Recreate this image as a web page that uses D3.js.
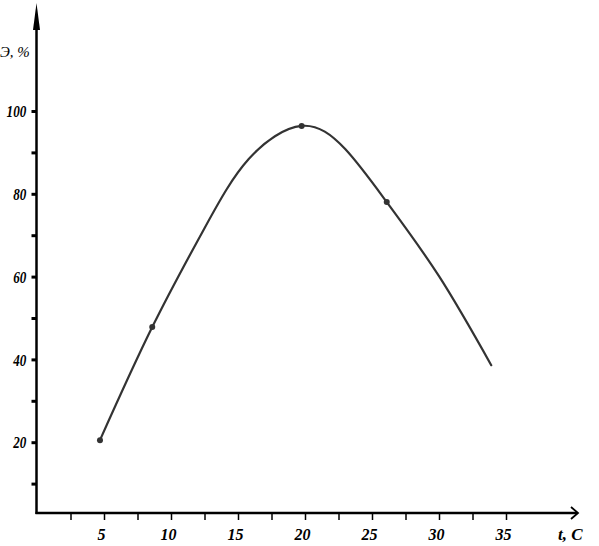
<!DOCTYPE html>
<html>
<head>
<meta charset="utf-8">
<script src="https://cdn.jsdelivr.net/npm/d3@7/dist/d3.min.js"></script>
<style>
  html, body { margin: 0; padding: 0; background: #ffffff; }
  svg { display: block; }
  text { font-family: "Liberation Serif", "Times New Roman", serif; fill: #000; }
</style>
</head>
<body>
<svg id="chart" width="599" height="546"></svg>
<script>
// ---- data ----
const temperature = [4.7, 8.6, 12.5, 15.8, 19.75, 23.0, 26.1, 30.0, 33.9];
const efficiency  = [20.5, 47.8, 71.7, 88.4, 96.4, 90.8, 78.0, 60.1, 38.6];
const markedT = [4.7, 8.6, 19.75, 26.1];
const markedE = [20.5, 47.8, 96.4, 78.0];
const xTickValues = [2.5, 5, 7.5, 10, 12.5, 15, 17.5, 20, 22.5, 25, 27.5, 30, 32.5, 35];
const xTickLabels = ["", "5", "", "10", "", "15", "", "20", "", "25", "", "30", "", "35"];
const yTickValues = [10, 20, 30, 40, 50, 60, 70, 80, 90, 100];
const yTickLabels = ["", "20", "", "40", "", "60", "", "80", "", "100"];
const yTitle = "Э, %";
const xTitle = "t, C";

const svg = d3.select("#chart");
const axisX0 = 36.5, axisY0 = 513;

const x = d3.scaleLinear().domain([0, 35]).range([37, 506]);
const y = d3.scaleLinear().domain([0, 100]).range([525, 111]);

// axis lines
svg.append("line").attr("x1", axisX0).attr("x2", axisX0).attr("y1", axisY0 + 1).attr("y2", 14)
  .attr("stroke", "#000").attr("stroke-width", 2.5);
svg.append("path").attr("d", `M${axisX0},3 L${axisX0 - 3.5},30 L${axisX0 + 3.5},30 Z`).attr("fill", "#000");

svg.append("line").attr("x1", axisX0 - 1).attr("x2", 577).attr("y1", axisY0).attr("y2", axisY0)
  .attr("stroke", "#000").attr("stroke-width", 2.5);
svg.append("path").attr("d", `M571,${axisY0 - 6} L578,${axisY0} L571,${axisY0 + 6}`)
  .attr("fill", "none").attr("stroke", "#000").attr("stroke-width", 1.8);

// x axis ticks
const xAxis = d3.axisBottom(x).tickValues(xTickValues).tickSize(7).tickSizeOuter(0)
  .tickFormat((d, i) => xTickLabels[i]);
const gx = svg.append("g").attr("transform", `translate(0,${axisY0})`).call(xAxis);
gx.select(".domain").remove();
gx.selectAll(".tick line").attr("stroke", "#000").attr("stroke-width", 1.5);
gx.selectAll(".tick text").attr("y", 27).attr("dy", 0).attr("dx", -3)
  .style("font-family", "'Liberation Serif', serif").style("font-weight", "bold")
  .style("font-style", "italic").style("font-size", "16px").attr("fill", "#000");

// y axis ticks
const yAxis = d3.axisLeft(y).tickValues(yTickValues).tickSize(5).tickSizeOuter(0)
  .tickFormat((d, i) => yTickLabels[i]);
const gy = svg.append("g").attr("transform", `translate(${axisX0},0)`).call(yAxis);
gy.select(".domain").remove();
gy.selectAll(".tick line").attr("stroke", "#000").attr("stroke-width", 3);
gy.selectAll(".tick text").attr("x", -12.5).attr("dy", "0.36em")
  .attr("transform", "scale(0.82,1)")
  .style("font-family", "'Liberation Serif', serif").style("font-weight", "bold")
  .style("font-style", "italic").style("font-size", "16px").attr("fill", "#000");

// titles
svg.append("text").attr("x", 0).attr("y", 57).text(yTitle)
  .style("font-style", "italic").style("font-size", "15px");
svg.append("text").attr("x", 558).attr("y", 540).text(xTitle)
  .style("font-style", "italic").style("font-weight", "bold").style("font-size", "17px");

// curve
const pts = temperature.map((t, i) => [t, efficiency[i]]);
const line = d3.line().x(d => x(d[0])).y(d => y(d[1])).curve(d3.curveNatural);
svg.append("path").datum(pts).attr("d", line)
  .attr("fill", "none").attr("stroke", "#333").attr("stroke-width", 2.2)
  .attr("stroke-linecap", "round");

// marked points
svg.selectAll("circle.m").data(markedT.map((t, i) => [t, markedE[i]])).enter()
  .append("circle").attr("class", "m")
  .attr("cx", d => x(d[0])).attr("cy", d => y(d[1])).attr("r", 3)
  .attr("fill", "#333");
</script>
</body>
</html>
